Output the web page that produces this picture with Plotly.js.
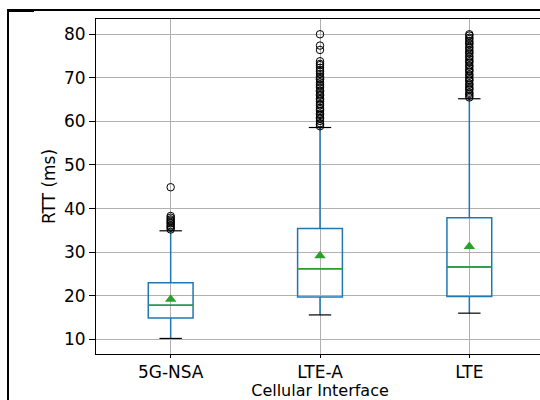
<!DOCTYPE html>
<html>
<head>
<meta charset="utf-8">
<script src="https://cdn.plot.ly/plotly-3.0.1.min.js"></script>
<style>
  html, body { margin: 0; padding: 0; width: 540px; height: 400px; overflow: hidden; background: #fff; }
  #plot { position: absolute; left: 0; top: 0; width: 560px; height: 400px; }
  .frame { position: absolute; background: #000; z-index: 10; }
</style>
</head>
<body>
<div id="plot"></div>
<div class="frame" style="left:7px; top:9px; width:533px; height:2px;"></div>
<div class="frame" style="left:7px; top:9px; width:2px; height:391px;"></div>
<div class="frame" style="left:7px; top:9px; width:27px; height:3px;"></div>
<script>
// ---- data ----
const categories = ["5G-NSA", "LTE-A", "LTE"];
const q1Values = [14.9, 19.7, 19.8];
const medianValues = [17.8, 26.2, 26.6];
const q3Values = [23.0, 35.4, 37.9];
const lowerWhisker = [10.2, 15.6, 16.0];
const upperWhisker = [34.9, 58.6, 65.2];
const meanValues = [19.2, 29.2, 31.3];
const outliers5GNSA = [35.2, 35.6, 35.9, 36.2, 36.6, 36.9, 37.2, 37.5, 37.9, 38.3, 44.9];
const outliersLTEA = [80.0, 77.4, 76.4, 73.8, 73.2, 72.9, 72.3, 71.8, 71.4, 70.9, 70.3, 69.9,
  69.6, 69.0, 68.5, 68.1, 67.7, 67.1, 66.8, 66.2, 65.9, 65.3, 65.0, 64.6, 64.0, 63.7,
  63.1, 62.8, 62.4, 61.8, 61.5, 60.9, 60.6, 60.1, 59.6, 59.3, 58.9];
const outliersLTE = [80.0, 79.7, 79.2, 78.9, 78.4, 78.0, 77.7, 77.1, 76.8, 76.3, 75.9, 75.6,
  75.0, 74.7, 74.2, 73.8, 73.5, 72.9, 72.6, 72.1, 71.7, 71.4, 70.8, 70.5, 70.0, 69.6,
  69.3, 68.7, 68.4, 67.9, 67.5, 67.2, 66.6, 66.3, 65.9, 65.5];
const yTicks = [10, 20, 30, 40, 50, 60, 70, 80];

// ---- styling ----
const BLUE = "#1f77b4", GREEN = "#2ca02c";
const BOX_W = 0.3, CAP_W = 0.15;
const idx = categories.map((_, i) => i);

const boxTrace = {
  type: "box", x: idx,
  q1: q1Values, median: medianValues, q3: q3Values,
  lowerfence: lowerWhisker, upperfence: upperWhisker,
  boxpoints: false, width: BOX_W, whiskerwidth: 0,
  fillcolor: "rgba(0,0,0,0)", line: { color: BLUE, width: 1.5 },
  hoverinfo: "skip", showlegend: false
};

function segTrace(values, halfW, color, width) {
  const xs = [], ys = [];
  values.forEach((v, i) => { xs.push(i - halfW, i + halfW, null); ys.push(v, v, null); });
  return { type: "scatter", mode: "lines", x: xs, y: ys,
           line: { color: color, width: width }, hoverinfo: "skip", showlegend: false };
}

const capsLow = segTrace(lowerWhisker, CAP_W / 2, "#000", 1.2);
const capsHigh = segTrace(upperWhisker, CAP_W / 2, "#000", 1.2);
const medians = segTrace(medianValues, BOX_W / 2, GREEN, 1.6);

const outlierGroups = [outliers5GNSA, outliersLTEA, outliersLTE];
const ox = [], oy = [];
outlierGroups.forEach((g, i) => g.forEach(v => { ox.push(i); oy.push(v); }));
const outlierTrace = {
  type: "scatter", mode: "markers", x: ox, y: oy,
  marker: { symbol: "circle-open", size: 7.5, color: "#000", line: { width: 1, color: "#000" } },
  hoverinfo: "skip", showlegend: false
};

const meanTrace = {
  type: "scatter", mode: "markers", x: idx, y: meanValues,
  marker: { symbol: "triangle-up", size: 10, color: GREEN, line: { width: 0 } },
  hoverinfo: "skip", showlegend: false
};

const font = { family: "DejaVu Sans, sans-serif", size: 17, color: "#000" };
const xTitleFont = { family: "DejaVu Sans, sans-serif", size: 16, color: "#000" };

const layout = {
  width: 560, height: 400,
  margin: { l: 96, r: 16, t: 19, b: 46 },
  paper_bgcolor: "rgba(0,0,0,0)", plot_bgcolor: "#fff",
  font: font, showlegend: false,
  xaxis: {
    type: "linear", range: [-0.5, 2.5],
    tickvals: idx, ticktext: categories,
    showgrid: true, gridcolor: "#b0b0b0", gridwidth: 1,
    zeroline: false, showline: true, linecolor: "#000", linewidth: 1, mirror: true,
    ticks: "outside", ticklen: 3, tickcolor: "#000", tickwidth: 1,
    tickfont: font, automargin: false,
    title: { text: "Cellular Interface", font: xTitleFont, standoff: 7 }
  },
  yaxis: {
    range: [6.63, 83.5], tickvals: yTicks,
    showgrid: true, gridcolor: "#b0b0b0", gridwidth: 1,
    zeroline: false, showline: true, linecolor: "#000", linewidth: 1, mirror: true,
    ticks: "outside", ticklen: 6, tickcolor: "#000", tickwidth: 1,
    tickfont: font, automargin: false,
    title: { text: "RTT (ms)", font: font, standoff: 4 }
  }
};

Plotly.newPlot("plot",
  [boxTrace, medians, capsLow, capsHigh, outlierTrace, meanTrace],
  layout, { staticPlot: true, displayModeBar: false });
</script>
</body>
</html>
